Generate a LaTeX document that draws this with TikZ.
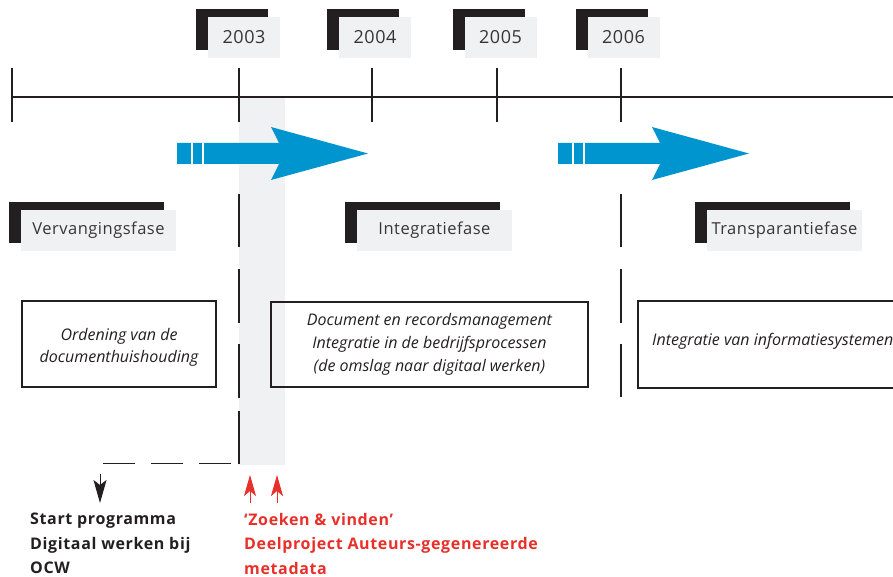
\documentclass[tikz,border=0pt]{standalone}
\usepackage{fontspec}
\setmainfont{Open Sans}
\usetikzlibrary{shadows,arrows.meta}
\definecolor{tlgray}{HTML}{F0F1F3}
\definecolor{tlblack}{HTML}{231F20}
\definecolor{tlblue}{HTML}{0095CF}
\definecolor{tlred}{HTML}{E8302A}
\begin{document}
\begin{tikzpicture}[x=1pt,y=-1pt,
  tag/.style={fill=tlgray, inner sep=0pt, text=tlblack!90,
    font=\fontsize{16.5}{20}\selectfont\addfontfeatures{LetterSpace=3},
    general shadow={fill=tlblack, shadow xshift=-12pt, shadow yshift=8pt}},
  yeartag/.style={tag, minimum width=72pt, minimum height=41pt,
    font=\fontsize{18}{20}\selectfont\addfontfeatures{LetterSpace=3}},
  phasetag/.style={tag, minimum width=155pt, minimum height=41pt},
  axis/.style={draw=tlblack, line width=1.2pt},
  phaseline/.style={draw=tlblack, line width=1.2pt},
  infobox/.style={draw=tlblack, line width=1.1pt, inner sep=0pt, align=center,
    font=\fontsize{16}{23}\selectfont\itshape, text=tlblack},
  bigarrow/.style={fill=tlblue},
  note/.style={anchor=north west, align=left, inner sep=0pt,
    font=\fontsize{16}{24.5}\selectfont\bfseries\addfontfeatures{LetterSpace=4}}
]
\useasboundingbox (0,0) rectangle (893,577);
\clip (0,0) rectangle (893,577);

% shaded band
\fill[tlgray] (239,97) rectangle (285,465);

% timeline
\coordinate (t0) at (12,97);
\coordinate (tend) at (893,97);
\draw[axis] (t0) -- (tend);
\foreach \x/\n in {12/a,239/b,372/c,497/d,621/e}{
  \coordinate (tick\n top) at (\x,68);
  \coordinate (tick\n bot) at (\x,122);
  \draw[axis] (tick\n top) -- (tick\n bot);
}

% year tags
\node[yeartag] (y2003) at (244,37.5) {2003};
\node[yeartag] (y2004) at (375,37.5) {2004};
\node[yeartag] (y2005) at (500.5,37.5) {2005};
\node[yeartag] (y2006) at (623.5,37.5) {2006};

% blue arrows
\foreach \s in {0,381}{
  \begin{scope}[xshift=\s pt]
    \fill[bigarrow] (177,143) -- (279,143) -- (271,127) -- (368,153.5)
      -- (271,180) -- (279,164) -- (177,164) -- cycle;
    \fill[white] (191,143) rectangle (193.2,164);
    \fill[white] (202,143) rectangle (204.2,164);
  \end{scope}
}

% phase tags
\node[phasetag] (p1) at (98.5,230.5) {Vervangingsfase};
\node[phasetag] (p2) at (434.5,230.5) {Integratiefase};
\node[phasetag] (p3) at (784.5,230.5) {Transparantiefase};

% dashed phase boundaries
\coordinate (d1top) at (239,194);
\coordinate (d1bot) at (239,463.5);
\draw[phaseline, dash pattern=on 53pt off 22pt on 54pt off 21pt on 54pt off 13pt on 60pt] (d1top) -- (d1bot);
\coordinate (d2top) at (621,194);
\coordinate (d2bot) at (621,397);
\draw[phaseline, dash pattern=on 53pt off 22pt on 54pt off 21pt on 60pt] (d2top) -- (d2bot);

% horizontal dashed line to start
\coordinate (h1) at (231,463.5);
\coordinate (h2) at (103,463.5);
\draw[phaseline, dash pattern=on 32pt off 16pt] (h1) -- (h2);

% info boxes
\node[infobox, minimum width=194pt, minimum height=86pt] (b1) at (119,344) {};
\node[align=center, inner sep=0pt, font=\fontsize{16}{22}\selectfont\itshape, text=tlblack] (b1t) at (119,347)
  {Ordening van de\\documenthuishouding};
\node[infobox, minimum width=317pt, minimum height=85pt] (b2) at (429.5,344.5)
  {Document en recordsmanagement\\Integratie in de bedrijfsprocessen\\(de omslag naar digitaal werken)};
\draw[draw=tlblack, line width=1.1pt] (1100,301) -- (638,301) -- (638,388) -- (1100,388);
\node[anchor=west, inner sep=0pt, font=\fontsize{16}{17}\selectfont\itshape, text=tlblack] (b3) at (652,341)
  {Integratie van informatiesystemen};

% start arrow
\coordinate (s1) at (100,474);
\coordinate (s2) at (100,503);
\draw[tlblack, line width=0.9pt, -{Stealth[length=23pt, width=13pt, inset=5pt]}] (s1) -- (s2);

% red arrows
\coordinate (r1a) at (250,503);
\coordinate (r1b) at (250,475);
\coordinate (r2a) at (277,503);
\coordinate (r2b) at (277,475);
\draw[tlred, line width=0.9pt, -{Stealth[length=21pt, width=12pt, inset=5pt]}] (r1a) -- (r1b);
\draw[tlred, line width=0.9pt, -{Stealth[length=21pt, width=12pt, inset=5pt]}] (r2a) -- (r2b);

% notes
\node[note, text=tlblack] (n1) at (30,513) {Start programma\\Digitaal werken bij\\OCW};
\node[note, text=tlred] (n2) at (244,513) {‘Zoeken \& vinden’\\Deelproject Auteurs-gegenereerde\\metadata};
\end{tikzpicture}
\end{document}
